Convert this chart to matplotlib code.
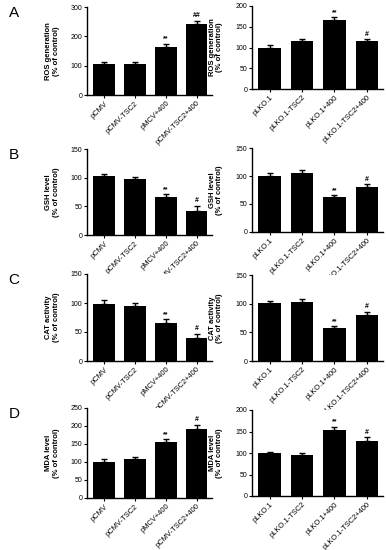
import matplotlib
matplotlib.use("Agg")
import matplotlib.pyplot as plt

plt.rcParams['font.family'] = ['Liberation Sans', 'DejaVu Sans']

cmv_labels = ["pCMV", "pCMV-TSC2", "pMCV+400", "pCMV-TSC2+400"]
lko_labels = ["pLKO.1", "pLKO.1-TSC2", "pLKO.1+400", "pLKO.1-TSC2+400"]

ros_cmv = [104, 107, 165, 242]
ros_cmv_err = [9, 6, 10, 11]
ros_lko = [100, 115, 166, 115]
ros_lko_err = [5, 6, 7, 6]

gsh_cmv = [103, 98, 66, 42]
gsh_cmv_err = [3, 3, 5, 9]
gsh_lko = [100, 105, 62, 80]
gsh_lko_err = [5, 5, 4, 5]

cat_cmv = [98, 95, 66, 40]
cat_cmv_err = [7, 5, 6, 7]
cat_lko = [101, 103, 57, 80]
cat_lko_err = [3, 6, 4, 6]

mda_cmv = [100, 107, 156, 191]
mda_cmv_err = [8, 6, 7, 13]
mda_lko = [101, 95, 154, 128]
mda_lko_err = [2, 5, 7, 9]

marks_cmv_ros = ["", "", "**", "##"]
marks_std = ["", "", "**", "#"]

W, H = 386, 550
fig = plt.figure(figsize=(W / 100, H / 100), dpi=100)


def px_axes(x0, x1, ytop, ybot):
    return fig.add_axes([x0 / W, 1 - ybot / H, (x1 - x0) / W, (ybot - ytop) / H])


def panel(ax, vals, errs, labels, marks, ymax, step, ylabel):
    x = list(range(len(vals)))
    ax.bar(x, vals, width=0.7, color="black")
    ax.errorbar(x, vals, yerr=[[0] * len(errs), errs], fmt="none",
                ecolor="black", elinewidth=1, capsize=2.5, capthick=1)
    for xi, v, e, m in zip(x, vals, errs, marks):
        if m:
            ax.text(xi, v + e + ymax * 0.015, m, ha="center", va="bottom",
                    fontsize=5, fontweight="bold")
    ax.set_xlim(-0.55, 3.5)
    ax.set_ylim(0, ymax)
    ax.set_yticks(range(0, ymax + 1, step))
    ax.set_xticks(x)
    ax.set_xticklabels(labels, rotation=45, ha="right", rotation_mode="anchor",
                       fontsize=5.4)
    ax.tick_params(axis="y", labelsize=5, length=2.5, width=0.8, pad=1)
    ax.tick_params(axis="x", length=2, width=0.8, pad=1.5)
    for s in ["top", "right"]:
        ax.spines[s].set_visible(False)
    for s in ["left", "bottom"]:
        ax.spines[s].set_linewidth(1)
    ax.set_ylabel(ylabel, fontsize=5.5, fontweight="bold", linespacing=1.1)
    ax.yaxis.set_label_coords(-0.22, 0.5)


rows = [
    ("A", 7, 95, 6, 89, ros_cmv, ros_cmv_err, marks_cmv_ros, 300, 100,
     ros_lko, ros_lko_err, 200, 50, "ROS generation\n(% of control)"),
    ("B", 149, 235, 148, 232, gsh_cmv, gsh_cmv_err, marks_std, 150, 50,
     gsh_lko, gsh_lko_err, 150, 50, "GSH level\n(% of control)"),
    ("C", 274, 361, 275, 361, cat_cmv, cat_cmv_err, marks_std, 150, 50,
     cat_lko, cat_lko_err, 150, 50, "CAT activity\n(% of control)"),
    ("D", 408, 498, 410, 496, mda_cmv, mda_cmv_err, marks_std, 250, 50,
     mda_lko, mda_lko_err, 200, 50, "MDA level\n(% of control)"),
]

for (letter, lt, lb, rt, rb, lv, le, lm, lmax, lstep,
     rv, re, rmax, rstep, ylab) in rows:
    axl = px_axes(87, 212, lt, lb)
    panel(axl, lv, le, cmv_labels, lm, lmax, lstep, ylab)
    axr = px_axes(252, 383, rt, rb)
    panel(axr, rv, re, lko_labels, marks_std, rmax, rstep, ylab)
    fig.text(14 / W, 1 - (lt + 6) / H, letter, fontsize=11, ha="center", va="center")

fig.savefig("out.png", dpi=100)
